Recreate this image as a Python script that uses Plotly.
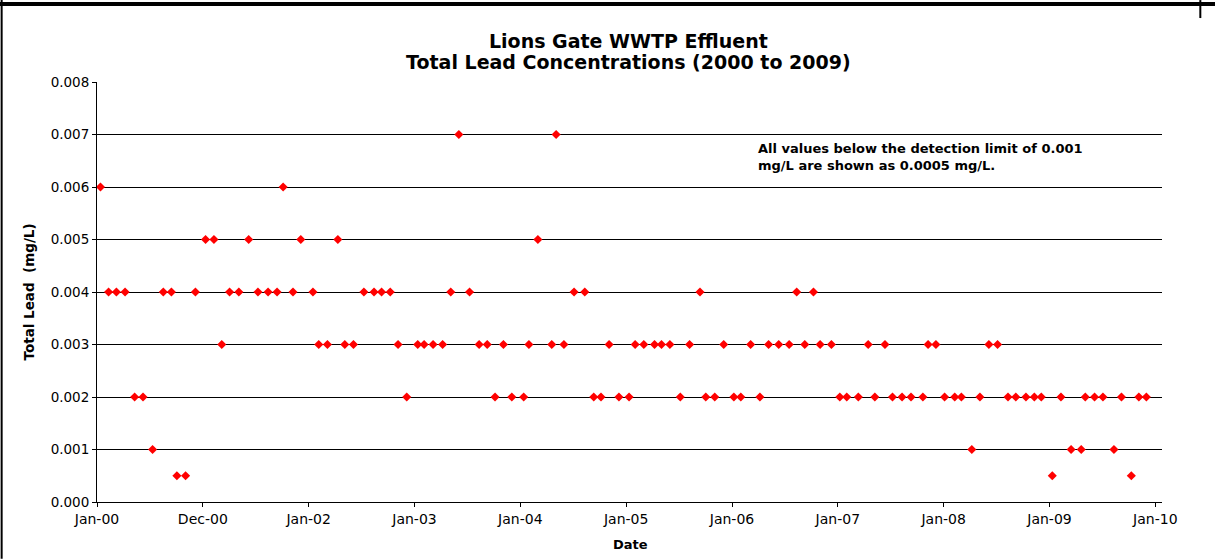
import pandas as pd
import plotly.graph_objects as go

# ---- data ----
sample_dates = [
    "2000-01-13", "2000-02-10", "2000-03-08", "2000-04-07", "2000-05-10", "2000-06-08",
    "2000-07-11", "2000-08-17", "2000-09-14", "2000-10-03", "2000-11-02", "2000-12-06",
    "2001-01-10", "2001-02-08", "2001-03-07", "2001-04-03", "2001-05-05", "2001-06-08",
    "2001-07-10", "2001-08-14", "2001-09-14", "2001-10-05", "2001-11-08", "2001-12-05",
    "2002-01-16", "2002-02-05", "2002-03-07", "2002-04-12", "2002-05-06", "2002-06-05",
    "2002-07-11", "2002-08-15", "2002-09-10", "2002-10-10", "2002-11-06", "2002-12-06",
    "2003-01-13", "2003-02-04", "2003-03-07", "2003-04-09", "2003-05-07", "2003-06-04",
    "2003-07-11", "2003-08-13", "2003-09-10", "2003-10-07", "2003-11-05", "2003-12-04",
    "2004-01-14", "2004-02-01", "2004-03-03", "2004-04-20", "2004-05-05", "2004-06-01",
    "2004-07-06", "2004-08-12", "2004-09-12", "2004-10-07", "2004-11-04", "2004-12-08",
    "2005-01-12", "2005-02-02", "2005-03-04", "2005-04-10", "2005-05-04", "2005-06-02",
    "2005-07-08", "2005-08-09", "2005-09-14", "2005-10-04", "2005-11-04", "2005-12-05",
    "2006-01-09", "2006-02-02", "2006-03-08", "2006-04-09", "2006-05-09", "2006-06-13",
    "2006-07-19", "2006-08-14", "2006-09-11", "2006-10-11", "2006-11-03", "2006-12-12",
    "2007-01-10", "2007-02-03", "2007-03-15", "2007-04-18", "2007-05-11", "2007-06-15",
    "2007-07-11", "2007-08-13", "2007-09-13", "2007-10-24", "2007-11-11", "2007-12-08",
    "2008-01-07", "2008-02-11", "2008-03-05", "2008-04-10", "2008-05-08", "2008-06-08",
    "2008-07-08", "2008-08-13", "2008-09-09", "2008-10-14", "2008-11-12", "2008-12-06",
    "2009-01-13", "2009-02-12", "2009-03-19", "2009-04-23", "2009-05-07", "2009-06-08",
    "2009-07-07", "2009-08-14", "2009-09-09", "2009-10-13", "2009-11-08", "2009-12-04",
]
total_lead = [
    0.006, 0.004, 0.004, 0.004, 0.002, 0.002, 0.001, 0.004, 0.004, 0.0005, 0.0005, 0.004,
    0.005, 0.005, 0.003, 0.004, 0.004, 0.005, 0.004, 0.004, 0.004, 0.006, 0.004, 0.005,
    0.004, 0.003, 0.003, 0.005, 0.003, 0.003, 0.004, 0.004, 0.004, 0.004, 0.003, 0.002,
    0.003, 0.003, 0.003, 0.003, 0.004, 0.007, 0.004, 0.003, 0.003, 0.002, 0.003, 0.002,
    0.002, 0.003, 0.005, 0.003, 0.007, 0.003, 0.004, 0.004, 0.002, 0.002, 0.003, 0.002,
    0.002, 0.003, 0.003, 0.003, 0.003, 0.003, 0.002, 0.003, 0.004, 0.002, 0.002, 0.003,
    0.002, 0.002, 0.003, 0.002, 0.003, 0.003, 0.003, 0.004, 0.003, 0.004, 0.003, 0.003,
    0.002, 0.002, 0.002, 0.003, 0.002, 0.003, 0.002, 0.002, 0.002, 0.002, 0.003, 0.003,
    0.002, 0.002, 0.002, 0.001, 0.002, 0.003, 0.003, 0.002, 0.002, 0.002, 0.002, 0.002,
    0.0005, 0.002, 0.001, 0.001, 0.002, 0.002, 0.002, 0.001, 0.002, 0.0005, 0.002, 0.002,
]
tick_labels = ["Jan-00", "Dec-00", "Jan-02", "Jan-03", "Jan-04", "Jan-05",
               "Jan-06", "Jan-07", "Jan-08", "Jan-09", "Jan-10"]
title_lines = ["Lions Gate WWTP Effluent", "Total Lead Concentrations (2000 to 2009)"]
note_text = "All values below the detection limit of 0.001<br>mg/L are shown as 0.0005 mg/L."

# ---- layout geometry (pixels) ----
W, H = 1215, 559
PL, PR, PT, PB = 97.3, 1161.7, 82.0, 502.3   # plot area edges


def fx(px):
    return (px - PL) / (PR - PL)


def fy(py):
    return (PB - py) / (PB - PT)


start = pd.Timestamp("2000-01-01")
unit_days = 365.6
tick_vals = [start + pd.Timedelta(days=unit_days * k) for k in range(len(tick_labels))]
x_end = start + pd.Timedelta(days=3679)

FONT = "DejaVu Sans"

fig = go.Figure()
fig.add_trace(go.Scatter(
    x=pd.to_datetime(sample_dates), y=total_lead, mode="markers",
    marker=dict(symbol="diamond", size=7, color="#FF0000", line=dict(width=0)),
    showlegend=False, cliponaxis=False,
))

fig.update_layout(
    width=W, height=H,
    margin=dict(l=PL, r=W - PR, t=PT, b=H - PB, pad=0),
    paper_bgcolor="white", plot_bgcolor="white",
    font=dict(family=FONT, color="black"),
    xaxis=dict(
        type="date", range=[start, x_end],
        tickmode="array", tickvals=tick_vals, ticktext=tick_labels,
        ticks="outside", ticklen=4, tickcolor="black", tickwidth=1,
        showline=True, linecolor="black", linewidth=1,
        showgrid=False, zeroline=False,
        tickfont=dict(family=FONT, size=14, color="black"),
    ),
    yaxis=dict(
        range=[0, 0.008], dtick=0.001, tick0=0, tickformat=".3f",
        ticks="outside", ticklen=4, tickcolor="black", tickwidth=1,
        showline=True, linecolor="black", linewidth=1,
        showgrid=True, gridcolor="black", gridwidth=1, zeroline=False,
        tickfont=dict(family=FONT, size=13.5, color="black"),
    ),
)

annotations = [
    dict(text="<b>%s</b>" % title_lines[0], x=fx(629), y=fy(41), xref="paper", yref="paper",
         xanchor="center", yanchor="middle", showarrow=False,
         font=dict(family=FONT, size=19, color="black")),
    dict(text="<b>%s</b>" % title_lines[1], x=fx(629), y=fy(62), xref="paper", yref="paper",
         xanchor="center", yanchor="middle", showarrow=False,
         font=dict(family=FONT, size=19, color="black")),
    dict(text="<b>Total Lead\u00a0 (mg/L)</b>", x=fx(29), y=fy(292), xref="paper", yref="paper",
         xanchor="center", yanchor="middle", textangle=-90, showarrow=False,
         font=dict(family=FONT, size=13.5, color="black")),
    dict(text="<b>Date</b>", x=fx(630), y=fy(545), xref="paper", yref="paper",
         xanchor="center", yanchor="middle", showarrow=False,
         font=dict(family=FONT, size=13, color="black")),
    dict(text="<b>%s</b>" % note_text, x=fx(756), y=fy(157.5), xref="paper", yref="paper",
         xanchor="left", yanchor="middle", align="left", showarrow=False,
         font=dict(family=FONT, size=13, color="black")),
]
fig.update_layout(annotations=annotations)

shapes = [
    dict(type="line", xref="paper", yref="paper", x0=fx(0), x1=fx(W), y0=fy(4), y1=fy(4),
         line=dict(color="black", width=4)),
    dict(type="line", xref="paper", yref="paper", x0=fx(2), x1=fx(2), y0=fy(0), y1=fy(H),
         line=dict(color="black", width=2)),
    dict(type="line", xref="paper", yref="paper", x0=fx(1200), x1=fx(1200), y0=fy(0), y1=fy(18),
         line=dict(color="black", width=2)),
]
fig.update_layout(shapes=shapes)

fig.write_html("out.html", config={"displayModeBar": False},
               post_script="document.body.style.margin='0';")
